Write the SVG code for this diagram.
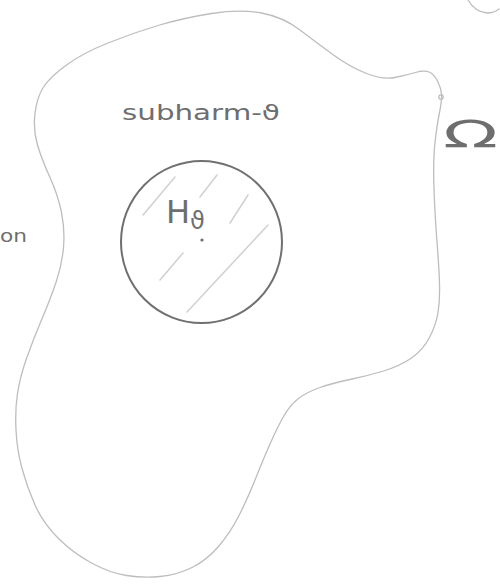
<svg xmlns="http://www.w3.org/2000/svg" width="500" height="584" viewBox="0 0 500 584">
<style>
.blob{fill:none;stroke:#bdbdbd;stroke-width:1.3;stroke-linecap:round;stroke-linejoin:round}
.disc{fill:none;stroke:#707070;stroke-width:2}
.hatch{stroke:#d2d2d2;stroke-width:1.6;stroke-linecap:round}
.hand{font-family:"DejaVu Sans","Liberation Sans",sans-serif;fill:#6e6e6e}
</style>
<rect width="500" height="584" fill="#ffffff"/>
<g id="domain-omega">
<path class="blob" d="M 35 113.5 Q 37 97 43.5 87 Q 50 77 66.5 65 Q 83 53 108 43 Q 133 33 158 25.5 Q 183 18 211.5 13.5 Q 240 9 261.5 13 Q 283 17 300 30 Q 317 43 333.5 55 Q 350 67 366.5 73.5 Q 383 80 395 77.5 Q 407 75 415.5 72.5 Q 424 70 429 72 Q 434 74 437.5 81 Q 441 88 441.5 94 Q 442 100 439.5 112.5 Q 437 125 435 142.5 Q 433 160 434 188.5 Q 435 217 437 242 Q 439 267 439.5 283.5 Q 440 300 438 312.5 Q 436 325 429.5 337.5 Q 423 350 411.5 358 Q 400 366 383.5 371 Q 367 376 350 379.5 Q 333 383 320 387.5 Q 307 392 298.5 398.5 Q 290 405 283.5 416.5 Q 277 428 270 444 Q 263 460 255 480 Q 247 500 238.5 516.5 Q 230 533 218.5 546.5 Q 207 560 192 567.5 Q 177 575 160 576.5 Q 143 578 126.5 575.5 Q 110 573 91.5 563 Q 73 553 58 538 Q 43 523 35 505 Q 27 487 22 468.5 Q 17 450 16 430 Q 15 410 17.5 393.5 Q 20 377 26.5 358.5 Q 33 340 41.5 320 Q 50 300 56 282.5 Q 62 265 63.5 247.5 Q 65 230 61.5 212.5 Q 58 195 50 177.5 Q 42 160 37.5 145 Q 33 130 35 113.5 Z"/>
<circle class="blob" cx="441" cy="97" r="2.2"/>
<text class="hand" x="443" y="147" font-size="38" textLength="55" lengthAdjust="spacingAndGlyphs">Ω</text>
</g>
<g id="label-subharm">
<text class="hand" x="122" y="120" font-size="22" textLength="158" lengthAdjust="spacingAndGlyphs">subharm-ϑ</text>
</g>
<g id="disc-H">
<line class="hatch" x1="143" y1="215" x2="175" y2="177"/>
<line class="hatch" x1="200" y1="197" x2="217" y2="175"/>
<line class="hatch" x1="230" y1="223" x2="248" y2="195"/>
<line class="hatch" x1="160" y1="280" x2="183" y2="253"/>
<line class="hatch" x1="187" y1="312" x2="268" y2="225"/>
<ellipse class="disc" cx="201.5" cy="242" rx="80.5" ry="81"/>
<text class="hand" x="166" y="223" font-size="32">H<tspan font-size="24" dy="6">ϑ</tspan></text>
<circle cx="202" cy="240" r="1.6" fill="#6e6e6e"/>
</g>
<g id="label-on">
<text class="hand" x="0" y="242" font-size="18" textLength="27" lengthAdjust="spacingAndGlyphs">on</text>
</g>
<g id="corner-arc">
<path class="blob" d="M 468 0 Q 475 12 487 13 Q 494 13 499 9"/>
</g>
<g id="connectors"></g>
</svg>
